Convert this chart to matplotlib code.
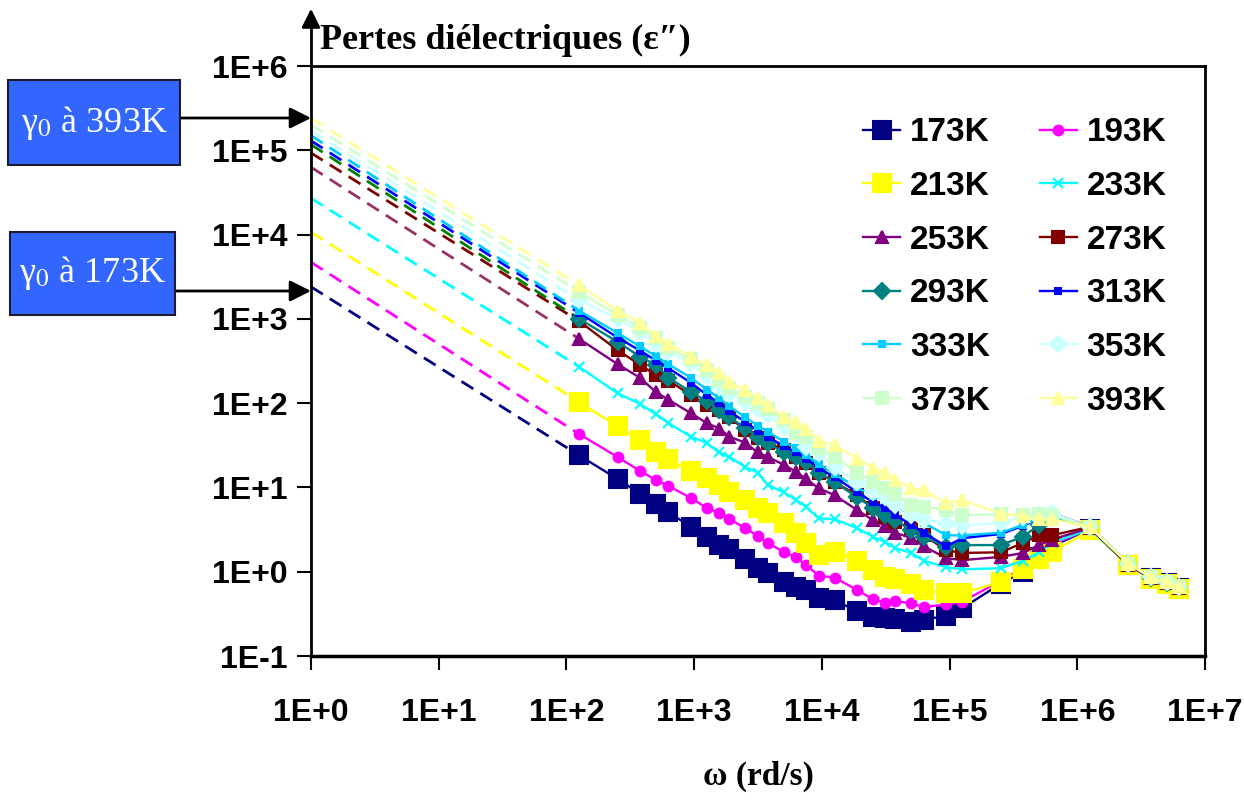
import matplotlib
matplotlib.use("Agg")
import matplotlib.pyplot as plt
import numpy as np
from matplotlib.patches import Rectangle

# frequencies of the measurement (Hz), converted to omega below
freq_hz = [20, 40, 60, 80, 100, 150, 200, 250, 300, 400, 500, 600, 800,
           1e3, 1.2e3, 1.5e3, 2e3, 3e3, 4e3, 5e3, 6e3, 8e3, 1e4, 1.5e4, 2e4,
           4e4, 6e4, 8e4, 1e5, 2e5, 4e5, 6e5, 8e5, 1e6]

temps = ["173K", "193K", "213K", "233K", "253K", "273K",
         "293K", "313K", "333K", "353K", "373K", "393K"]

# extrapolated loss at omega = 1 rd/s (gamma_0)
gamma0 = [2400, 4700, 10700, 27000, 63000, 93000,
          117000, 130000, 150000, 170000, 200000, 240000]

eps_173 = [24, 12.6, 8.4, 6.4, 5.1, 3.4, 2.6, 2.1, 1.85, 1.41, 1.1, 0.97, 0.76,
           0.66, 0.61, 0.49, 0.46, 0.34, 0.29, 0.28, 0.275, 0.25, 0.27, 0.30, 0.37,
           0.72, 1.0, 1.5, 2.0, 3.2, 1.2, 0.84, 0.73, 0.64]
eps_193 = [43, 23, 15.7, 12.3, 10.4, 7.5, 5.7, 5.0, 4.2, 3.3, 2.65, 2.2, 1.72,
           1.48, 1.2, 0.9, 0.85, 0.61, 0.47, 0.43, 0.45, 0.42, 0.38, 0.41, 0.44,
           0.78, 1.1, 1.6, 2.1, 3.2, 1.2, 0.84, 0.73, 0.64]
eps_213 = [103, 53, 36.5, 26.4, 21.7, 15.5, 12.9, 10.7, 8.8, 7.1, 5.7, 5.0, 3.8,
           2.9, 2.2, 1.6, 1.72, 1.35, 1.05, 0.87, 0.83, 0.71, 0.6, 0.56, 0.56,
           0.75, 1.08, 1.42, 1.7, 3.1, 1.2, 0.83, 0.72, 0.63]
eps_233 = [270, 131, 98, 74, 58, 40, 33.6, 26, 23, 17.5, 15, 10.7, 8.8,
           7.1, 5.9, 4.3, 4.2, 3.3, 2.6, 2.25, 1.9, 1.67, 1.35, 1.13, 1.07,
           1.1, 1.35, 1.7, 2.2, 3.2, 1.2, 0.84, 0.73, 0.64]
eps_253 = [580, 290, 200, 135, 110, 76, 58, 50, 40, 34, 26, 23, 18.6,
           15.3, 12.6, 9.8, 8.1, 5.4, 4.1, 3.5, 2.9, 2.5, 2.0, 1.45, 1.37,
           1.5, 1.67, 2.07, 2.4, 3.3, 1.2, 0.84, 0.73, 0.64]
eps_273 = [940, 425, 285, 215, 185, 125, 95, 83, 68, 48, 38.6, 33.6, 28,
           23, 19.4, 15, 11.6, 8.1, 5.7, 4.5, 3.9, 3.3, 2.7, 1.8, 1.67,
           1.7, 2.2, 2.7, 2.7, 3.4, 1.2, 0.84, 0.73, 0.64]
eps_293 = [1000, 535, 355, 285, 200, 136, 105, 83, 68, 50.6, 40, 33.6, 26,
           23, 20, 15, 11.5, 7.7, 5.7, 4.7, 4.1, 3.1, 2.6, 1.97, 2.07,
           2.07, 2.6, 3.6, 4.4, 3.4, 1.25, 0.85, 0.74, 0.65]
eps_313 = [1180, 600, 420, 320, 260, 175, 125, 100, 80, 60, 47, 40, 31,
           26, 22, 17, 13.3, 8.8, 6.7, 5.7, 4.7, 3.6, 2.9, 2.0, 2.5,
           2.8, 3.5, 4.3, 5.0, 3.4, 1.25, 0.85, 0.74, 0.65]
eps_333 = [1250, 680, 470, 360, 290, 200, 145, 115, 92, 68, 54, 46, 35,
           29, 24.5, 19, 14.5, 10, 8, 7, 6.2, 4.6, 3.8, 2.7, 2.7,
           2.9, 3.6, 4.3, 4.6, 3.4, 1.25, 0.85, 0.74, 0.65]
eps_353 = [1670, 1000, 700, 510, 405, 300, 210, 155, 130, 104, 85, 72, 52,
           42, 30, 25.6, 17.5, 11.6, 8.8, 7.7, 6.2, 4.7, 4.1, 3.8, 3.5,
           3.8, 4.5, 4.9, 5.0, 3.4, 1.25, 0.86, 0.75, 0.65]
eps_373 = [2100, 1100, 780, 600, 450, 330, 245, 188, 150, 118, 100, 85, 63,
           44, 40, 29, 23, 15, 11.6, 9.8, 8.3, 6.2, 5.9, 5.4, 4.7,
           4.8, 4.7, 4.9, 4.7, 3.4, 1.25, 0.86, 0.75, 0.65]
eps_393 = [2500, 1250, 900, 620, 510, 355, 285, 228, 178, 143, 115, 95, 68,
           60, 50, 36, 32, 22, 17, 15, 12.3, 9.8, 9.3, 6.5, 7.1,
           4.9, 4.6, 4.2, 4.2, 3.4, 1.25, 0.86, 0.75, 0.65]

series = [eps_173, eps_193, eps_213, eps_233, eps_253, eps_273,
          eps_293, eps_313, eps_333, eps_353, eps_373, eps_393]

colors = ["#000080", "#FF00FF", "#FFFF00", "#00FFFF", "#800080", "#800000",
          "#008080", "#0000FF", "#00CCFF", "#CCFFFF", "#CCFFCC", "#FFFF99"]
dash_colors = ["#000080", "#FF00FF", "#FFFF00", "#00FFFF", "#993366", "#800000",
               "#008000", "#0000FF", "#00CCFF", "#CCFFFF", "#CCFFCC", "#FFFF99"]
markers = ["s", "o", "s", "x", "^", "s", "D", "s", "s", "D", "s", "^"]
msizes = [13, 7, 13, 7, 8, 8, 8, 4, 4, 8, 8, 8]

W, H = 1244, 801
omega = 2 * np.pi * np.array(freq_hz)

sans = ["Liberation Sans", "DejaVu Sans"]
serif = ["Liberation Serif", "DejaVu Serif"]
plt.rcParams["mathtext.fontset"] = "stix"

fig = plt.figure(figsize=(W / 100, H / 100), dpi=100)
ax = fig.add_axes([311 / W, 1 - 656 / H, (1205 - 311) / W, (656 - 66) / H])

handles = []
for i, vals in enumerate(series):
    # dashed extrapolation from gamma_0 at omega = 1 to the first measured point
    ax.plot([1, omega[0]], [gamma0[i], vals[0]], ls=(0, (5, 3)), lw=2,
            color=dash_colors[i], zorder=2)
    h, = ax.plot(omega, vals, color=colors[i], lw=1.7, marker=markers[i],
                 ms=msizes[i], mec=colors[i], mfc=colors[i], mew=1.5,
                 label=temps[i], zorder=3)
    handles.append(h)

ax.set_xscale("log")
ax.set_yscale("log")
ax.set_xlim(1, 1e7)
ax.set_ylim(1e-1, 1e6)
ax.set_xticks([10.0 ** k for k in range(0, 8)])
ax.set_xticklabels(["1E+%d" % k for k in range(0, 8)])
ax.set_yticks([10.0 ** k for k in range(-1, 7)])
ax.set_yticklabels(["1E-1"] + ["1E+%d" % k for k in range(0, 7)])
ax.minorticks_off()
ax.tick_params(axis="both", direction="out", length=10, width=1.5, colors="black")
ax.tick_params(axis="x", pad=20)
ax.tick_params(axis="y", pad=7)
for lab in ax.get_xticklabels() + ax.get_yticklabels():
    lab.set_fontfamily(sans)
    lab.set_fontweight("bold")
    lab.set_fontsize(23)
for s in ax.spines.values():
    s.set_linewidth(2)
ax.spines["bottom"].set_linewidth(2.5)

order = [0, 2, 4, 6, 8, 10, 1, 3, 5, 7, 9, 11]
leg = ax.legend([handles[k] for k in order], [temps[k] for k in order],
                ncol=2, frameon=False, loc="upper left",
                bbox_to_anchor=((840 - 311) / (1205 - 311), 1 - (94 - 66) / 590),
                prop={"family": sans, "weight": "bold", "size": 24},
                handlelength=1.1, handletextpad=0.3, columnspacing=1.5,
                labelspacing=0.68, borderpad=0.2)

# y axis arrow above the frame
fig.add_artist(plt.Line2D([311 / W, 311 / W], [1 - 66 / H, 1 - 20 / H],
                          color="black", lw=2))
ax.annotate("", xy=(311 / W, 1 - 6 / H), xytext=(311 / W, 1 - 30 / H),
            xycoords="figure fraction", textcoords="figure fraction",
            arrowprops=dict(arrowstyle="-|>", color="black", lw=2,
                            mutation_scale=28))

fig.text(320 / W, 1 - 40 / H, "Pertes diélectriques (ε″)", ha="left", va="center",
         fontfamily=serif, fontweight="bold", fontsize=26)
ax.set_xlabel("ω (rd/s)", fontfamily=serif, fontweight="bold", fontsize=24)
ax.xaxis.label.set_va("center")
ax.xaxis.set_label_coords(0.5, (656 - 776) / 590)

# gamma_0 boxes with arrows
boxes = [(8, 80, 172, 85, "393K", 118), (10, 232, 165, 83, "173K", 291)]
for x0, y0, bw, bh, lab, ya in boxes:
    fig.add_artist(Rectangle((x0 / W, 1 - (y0 + bh) / H), bw / W, bh / H,
                             transform=fig.transFigure, facecolor="#3366FF",
                             edgecolor="#1a1a33", lw=1.5))
    fig.text((x0 + bw / 2) / W, 1 - (y0 + bh / 2) / H, "γ$_0$ à " + lab,
             ha="center", va="center", color="white", fontfamily=serif, fontsize=26)
    ax.annotate("", xy=(311 / W, 1 - ya / H), xytext=((x0 + bw) / W, 1 - ya / H),
                xycoords="figure fraction", textcoords="figure fraction",
                arrowprops=dict(arrowstyle="-|>", color="black", lw=2,
                                mutation_scale=32, shrinkA=0, shrinkB=0))

fig.savefig("out.png", dpi=100)
